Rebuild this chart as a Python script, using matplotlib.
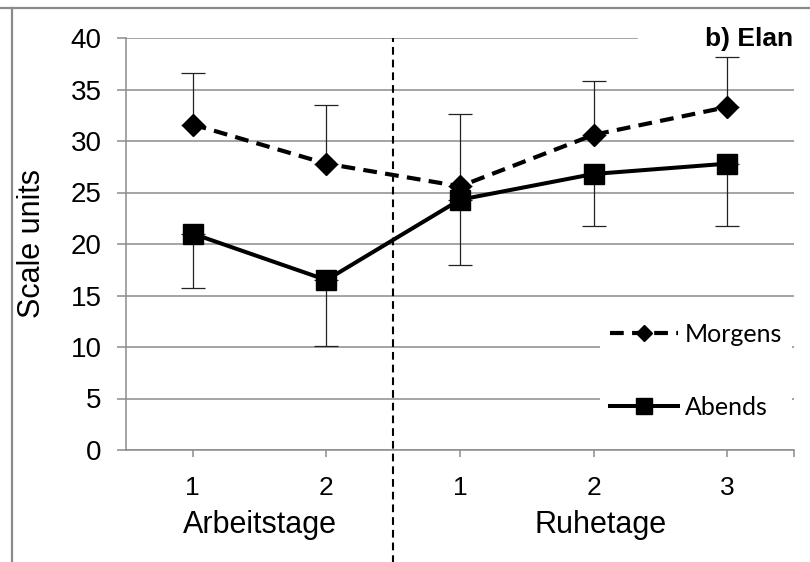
import matplotlib
matplotlib.use("Agg")
import matplotlib.pyplot as plt
from matplotlib.lines import Line2D
from matplotlib.patches import Rectangle
import matplotlib.transforms as mtransforms
import numpy as np

# data
tick_labels = ["1", "2", "1", "2", "3"]
groups = ["Arbeitstage", "Ruhetage"]
group_centers = [0.5, 3.05]
morgens = [31.6, 27.8, 25.6, 30.6, 33.3]
morgens_err = [5.0, 5.7, 7.0, 5.2, 4.9]   # upper only
abends = [21.0, 16.5, 24.3, 26.8, 27.8]
abends_err = [5.3, 6.4, 6.3, 5.1, 6.1]    # lower only

plt.rcParams['font.family'] = ['Liberation Sans', 'DejaVu Sans']

fig = plt.figure(figsize=(8.1, 5.62), dpi=100)
ax = fig.add_axes([126/810, 1 - 450/562, 668/810, 412/562])

x = np.arange(len(morgens))
grid_c = "#8c8c8c"

# error bars (one-sided)
ax.errorbar(x, morgens, yerr=[np.zeros(len(x)), morgens_err], fmt='none',
            ecolor='#222222', elinewidth=0.9, capsize=8.5, capthick=0.9, zorder=2)
ax.errorbar(x, abends, yerr=[abends_err, np.zeros(len(x))], fmt='none',
            ecolor='#222222', elinewidth=0.9, capsize=8.5, capthick=0.9, zorder=2)

ax.plot(x, morgens, color='black', lw=3.0, ls=(0, (3.3, 2.0)), marker='D',
        markersize=11, label='Morgens', zorder=3)
ax.plot(x, abends, color='black', lw=2.9, marker='s', markersize=15,
        label='Abends', zorder=3)

ax.set_xlim(-0.5, 4.5)
ax.set_ylim(0, 40)
ax.set_yticks(range(0, 41, 5))
ax.yaxis.grid(True, color=grid_c, lw=1.1)
ax.set_axisbelow(True)

ax.set_xticks(list(x) + [4.5])
ax.set_xticklabels(tick_labels + [""])
for s in ['top', 'right']:
    ax.spines[s].set_visible(False)
for s in ['left', 'bottom']:
    ax.spines[s].set_color(grid_c)
    ax.spines[s].set_linewidth(1.1)
ax.tick_params(axis='y', direction='out', length=6.5, color=grid_c, width=1.1,
               labelsize=20, pad=11)
ax.tick_params(axis='x', direction='out', length=5, color=grid_c, width=1.1,
               labelsize=19, pad=14)

# group labels under ticks
trans = mtransforms.blended_transform_factory(ax.transData, ax.transAxes)
for g, c in zip(groups, group_centers):
    ax.text(c, -0.2015, g, transform=trans, ha='center', va='baseline', fontsize=22)

# dashed separator between Arbeitstage and Ruhetage
ax.plot([1.5, 1.5], [-0.28, 1.0], transform=trans, color='black', lw=1.5,
        ls=(0, (3.7, 2.4)), clip_on=False, zorder=4)

# title with white box over top gridline
ax.add_patch(Rectangle(((638 - 126) / 668, 0.975), 1.0, 0.06, transform=ax.transAxes,
                       facecolor='white', edgecolor='none', clip_on=False, zorder=1.5))
fig.text(793/810, 1 - 46/562, "b) Elan", ha='right', va='baseline',
         fontsize=19, fontweight='bold')

fig.text(32/810, 1 - 244/562, "Scale units", rotation=90, ha='center', va='center',
         fontsize=22)

leg = ax.legend(loc='upper left', bbox_to_anchor=(600/810, 1 - 313/562),
                bbox_transform=fig.transFigure, frameon=True, fancybox=False,
                edgecolor='none', facecolor='white', framealpha=1,
                prop={'family': 'Lato', 'size': 18}, handlelength=2.7,
                handletextpad=0.3, labelspacing=2.0, borderpad=0.4,
                borderaxespad=0, markerscale=0.75)
leg.set_zorder(5)

# outer frame
fig.add_artist(Line2D([0, 1], [1 - 8/562, 1 - 8/562], color='#8a8a8a', lw=1.6,
                      transform=fig.transFigure))
fig.add_artist(Line2D([12/810, 12/810], [0, 1 - 8/562], color='#8a8a8a', lw=1.6,
                      transform=fig.transFigure))

fig.savefig("out.png", dpi=100)
